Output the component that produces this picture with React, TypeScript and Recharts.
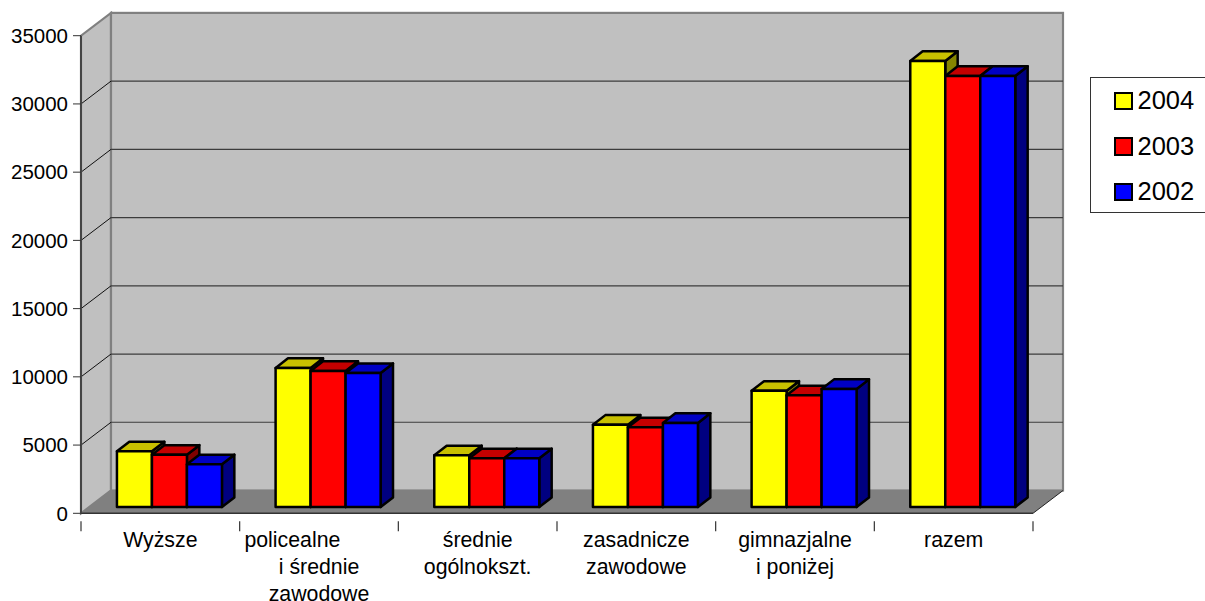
import React from "react";
import { BarChart, Bar, XAxis, YAxis, CartesianGrid, Legend } from "recharts";

const categories = ["Wyższe", "policealne         \ni średnie\nzawodowe", "średnie\nogólnokszt.", "zasadnicze\nzawodowe", "gimnazjalne\ni poniżej", "razem"];
const values2004 = [4080, 10190, 3790, 6030, 8520, 32690];
const values2003 = [3830, 9970, 3570, 5840, 8190, 31590];
const values2002 = [3130, 9820, 3570, 6160, 8650, 31590];
const yTicks = [0, 5000, 10000, 15000, 20000, 25000, 30000, 35000];

const rows = categories.map((category, i) => ({
  category,
  y2004: values2004[i],
  y2003: values2003[i],
  y2002: values2002[i],
}));

const FONT = "'Liberation Sans', Arial, sans-serif";
const LEFT = 81;
const TOP = 35.7;
const RIGHT = 1033;
const BOTTOM = 513.3;
const DX = 30;
const DY = 22.8;
const BAND = (RIGHT - LEFT) / categories.length;

// top and side colours of the 3d boxes
const shades: Record<string, [string, string]> = {
  "#ffff00": ["#c8c000", "#858500"],
  "#ff0000": ["#c40000", "#800000"],
  "#0000ff": ["#0000c4", "#000080"],
};

function Box3D(props: any) {
  const { x, y, width, height, fill } = props;
  const fx = x + 9.6;
  const fy = y - 6.3;
  const d = 12.4;
  const u = 9.6;
  const [topFill, sideFill] = shades[fill];
  return (
    <g stroke="#000" strokeWidth={2.5} strokeLinejoin="round">
      <path d={`M${fx + width},${fy} l${d},${-u} v${height} l${-d},${u} z`} fill={sideFill} />
      <path d={`M${fx},${fy} l${d},${-u} h${width} l${-d},${u} z`} fill={topFill} />
      <rect x={fx} y={fy} width={width} height={height} fill={fill} />
    </g>
  );
}

// sits behind the transparent chart svg
function Walls() {
  return (
    <svg width={1205} height={601} style={{ position: "absolute", left: 0, top: 0 }}>
      <path d={`M${LEFT},${BOTTOM} l${DX},${-DY} V${TOP - DY} L${LEFT},${TOP} z`} fill="#c0c0c0" stroke="#808080" strokeWidth={2.2} />
      <rect x={LEFT + DX} y={TOP - DY} width={RIGHT - LEFT} height={BOTTOM - TOP} fill="#c0c0c0" stroke="#808080" strokeWidth={2.2} />
      <path d={`M${LEFT},${BOTTOM} l${DX},${-DY} H${RIGHT + DX} l${-DX},${DY} z`} fill="#808080" />
      <path d={`M${RIGHT},${BOTTOM} l${DX},${-DY}`} fill="none" stroke="#222" strokeWidth={1} />
    </svg>
  );
}

function gridLine(props: any) {
  const { x1, x2, y1 } = props;
  if (y1 <= TOP + 1 || y1 >= BOTTOM - 1) return <g key={y1} />;
  return (
    <g key={y1} fill="none">
      <path d={`M${x1},${y1} l${DX},${-DY}`} stroke="#111" strokeWidth={1} />
      <path d={`M${x1 + DX},${y1 - DY} H${x2 + DX}`} stroke="#3c3c3c" strokeWidth={1.2} />
    </g>
  );
}

function CategoryTick(props: any) {
  const { x, y, payload, index } = props;
  const lines = String(payload.value).split("\n");
  return (
    <g>
      <line x1={x - BAND / 2} x2={x - BAND / 2} y1={y} y2={y + 10} stroke="#333" strokeWidth={1.2} />
      {index === categories.length - 1 && <line x1={x + BAND / 2} x2={x + BAND / 2} y1={y} y2={y + 10} stroke="#333" strokeWidth={1.2} />}
      {lines.map((line, i) => (
        <text key={i} x={x} y={547 + i * 27} textAnchor="middle" fontFamily={FONT} fontSize={21.3} fill="#000" style={{ whiteSpace: "pre" }}>
          {line}
        </text>
      ))}
    </g>
  );
}

function LegendBox(props: any) {
  return (
    <div style={{ boxSizing: "border-box", width: 115, height: 136, background: "#fff", border: "1px solid #333", borderRight: "none", paddingTop: 0 }}>
      {props.payload.map((item: any) => (
        <div key={item.value} style={{ display: "flex", alignItems: "center", height: 45.5, paddingLeft: 23 }}>
          <span style={{ boxSizing: "border-box", width: 18.5, height: 18.5, background: item.color, border: "2.5px solid #000" }} />
          <span style={{ marginLeft: 5, fontFamily: FONT, fontSize: 25.5, color: "#000" }}>{item.value}</span>
        </div>
      ))}
    </div>
  );
}

export default function App() {
  return (
    <div style={{ position: "absolute", left: 0, top: 0, width: 1205, height: 601, background: "#fff", overflow: "hidden" }}>
      <Walls />
      <BarChart
        width={1205}
        height={601}
        data={rows}
        margin={{ top: TOP, right: 1205 - RIGHT, bottom: 0, left: 0 }}
        barGap={0}
        barCategoryGap="16.6%"
      >
        <CartesianGrid vertical={false} horizontal={gridLine} />
        <XAxis
          dataKey="category"
          interval={0}
          height={601 - BOTTOM}
          tick={CategoryTick}
          tickLine={false}
          axisLine={{ stroke: "#333", strokeWidth: 1.5 }}
        />
        <YAxis
          width={LEFT}
          domain={[0, 35000]}
          ticks={yTicks}
          interval={0}
          tickSize={8}
          tickMargin={5}
          tick={{ fontFamily: FONT, fontSize: 20.5, fill: "#000" }}
          tickLine={{ stroke: "#333" }}
          axisLine={{ stroke: "#444", strokeWidth: 2 }}
        />
        <Legend layout="horizontal" verticalAlign="middle" itemSorter={null} content={LegendBox} wrapperStyle={{ left: 1090, top: 77, width: 115 }} />
        <Bar dataKey="y2004" name="2004" fill="#ffff00" shape={Box3D} isAnimationActive={false} />
        <Bar dataKey="y2003" name="2003" fill="#ff0000" shape={Box3D} isAnimationActive={false} />
        <Bar dataKey="y2002" name="2002" fill="#0000ff" shape={Box3D} isAnimationActive={false} />
      </BarChart>
    </div>
  );
}
